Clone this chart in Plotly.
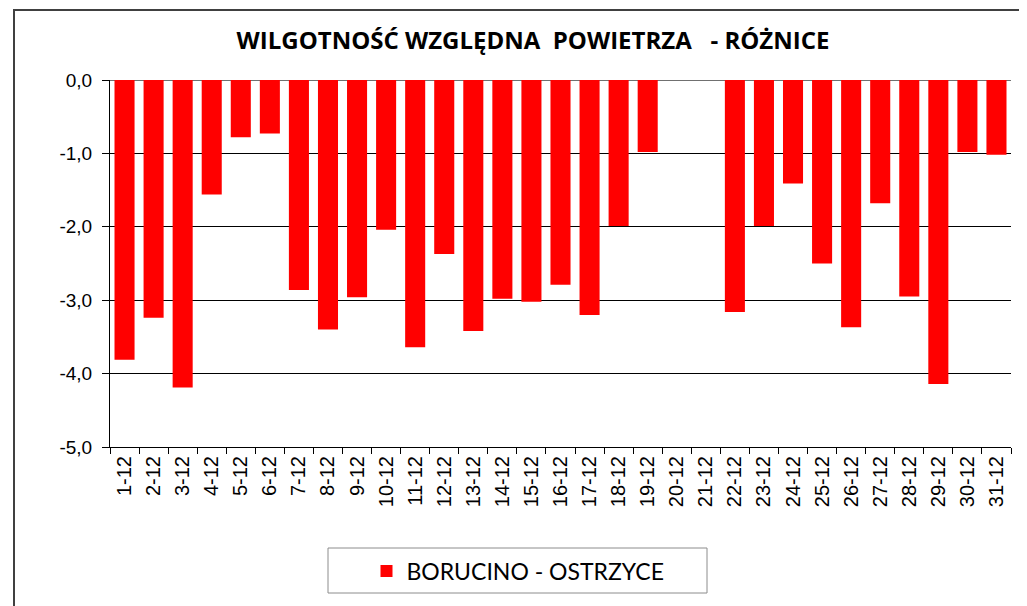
import plotly.graph_objects as go

days = [f"{d}-12" for d in range(1, 32)]
diff = [-3.81, -3.24, -4.19, -1.56, -0.78, -0.73, -2.86, -3.40, -2.96, -2.04,
        -3.64, -2.37, -3.42, -2.98, -3.02, -2.79, -3.20, -1.99, -0.98, None,
        None, -3.16, -1.99, -1.41, -2.50, -3.37, -1.68, -2.95, -4.14, -0.98, -1.02]
series_name = "BORUCINO - OSTRZYCE"
title = "WILGOTNOŚĆ WZGLĘDNA  POWIETRZA   - RÓŻNICE"
ytick_vals = [0, -1, -2, -3, -4, -5]
ytick_text = ["0,0", "-1,0", "-2,0", "-3,0", "-4,0", "-5,0"]

# page body has an 8px margin; work in screen coordinates and shift
OFF = 8
W, H = 1027 - OFF, 606 - OFF
L, R, T, B = 110 - OFF, 16, 80 - OFF, 606 - 447
pw, ph = W - L - R, H - T - B

def px(x):
    return (x - OFF - L) / pw

def py(y):
    return (H - B - (y - OFF)) / ph

fig = go.Figure()
fig.add_trace(go.Bar(x=days, y=diff, name=series_name,
                     marker=dict(color="#FF0000", line=dict(width=0)),
                     showlegend=True))

fig.update_layout(
    width=W, height=H,
    margin=dict(l=L, r=R, t=T, b=B, autoexpand=False),
    paper_bgcolor="white", plot_bgcolor="white",
    bargap=0.31,
    title=dict(text=title, x=(533 - OFF) / W, xref="container", xanchor="center",
               y=1 - (41 - OFF) / H, yref="container", yanchor="middle",
               font=dict(family="Open Sans", size=24, color="black", weight="bold")),
    font=dict(family="Liberation Sans, Arial", color="black"),
    showlegend=True,
    legend=dict(x=px(518), y=py(571), xanchor="center", yanchor="middle",
                orientation="h", bgcolor="rgba(0,0,0,0)", borderwidth=0,
                font=dict(family="Lato", size=23, color="black")),
    shapes=[
        dict(type="rect", xref="paper", yref="paper",
             x0=px(14), x1=px(1060), y0=py(640), y1=py(10),
             line=dict(color="#404040", width=2), fillcolor="rgba(0,0,0,0)", layer="below"),
        dict(type="rect", xref="paper", yref="paper",
             x0=px(328), x1=px(707), y0=py(593), y1=py(548),
             line=dict(color="#8c8c8c", width=1), fillcolor="rgba(0,0,0,0)"),
    ],
)

fig.update_xaxes(type="category", tickson="boundaries", ticks="outside", ticklen=6,
                 tickcolor="black", showline=True, linecolor="black", linewidth=1,
                 tickangle=-90, tickfont=dict(size=20, family="Liberation Sans, Arial"),
                 showgrid=False, mirror=False)
fig.update_yaxes(range=[-5, 0], tickvals=ytick_vals, ticktext=ytick_text,
                 ticks="outside", ticklen=7, tickcolor="black",
                 showline=True, linecolor="black", linewidth=1,
                 showgrid=True, gridcolor="black", gridwidth=1,
                 zeroline=True, zerolinecolor="#707070", zerolinewidth=1,
                 ticklabelstandoff=6,
                 tickfont=dict(size=19, family="Liberation Sans, Arial"))

fig.write_html("out.html")
